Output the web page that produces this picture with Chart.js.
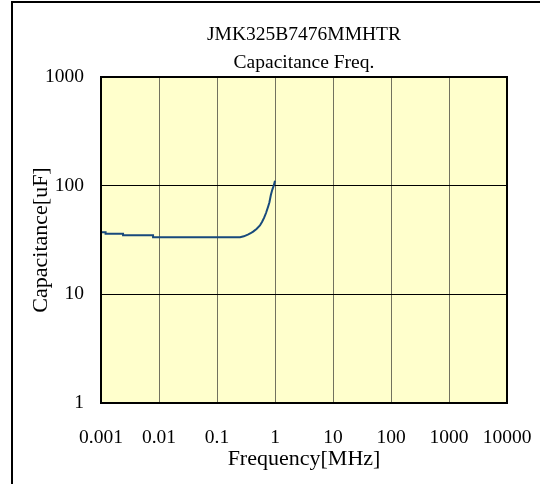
<!DOCTYPE html>
<html>
<head>
<meta charset="utf-8">
<script src="https://cdn.jsdelivr.net/npm/chart.js@4/dist/chart.umd.min.js"></script>
<style>
  html, body { margin: 0; padding: 0; background: #fff; }
  #wrap { width: 540px; height: 484px; }
</style>
</head>
<body>
<div id="wrap"><canvas id="capChart" width="540" height="484"></canvas></div>
<script>
// values
const freqMHz = [0.001, 0.0012, 0.0012, 0.0024, 0.0024, 0.0079, 0.0079, 0.25, 0.29, 0.34, 0.38, 0.42, 0.48, 0.55, 0.6, 0.65, 0.7, 0.76, 0.8, 0.85, 0.9, 0.95, 1.0];
const capUF = [37.3, 37.3, 36.1, 36.1, 35.0, 35.0, 33.6, 33.6, 34.2, 35.5, 36.5, 37.8, 40, 43, 46.5, 50.8, 56, 64, 70, 82.6, 92, 100, 111];

const xTicks = [0.001, 0.01, 0.1, 1, 10, 100, 1000, 10000];
const xTickLabels = ['0.001', '0.01', '0.1', '1', '10', '100', '1000', '10000'];
const yTicks = [1, 10, 100, 1000];
const yTickLabels = ['1', '10', '100', '1000'];

const titleLines = ['JMK325B7476MMHTR', 'Capacitance Freq.'];

const serif = "'Liberation Serif', 'Times New Roman', serif";

// yellow plot background, plot frame and the outer frame lines
const framePlugin = {
  id: 'frame',
  beforeDraw(chart) {
    const ctx = chart.ctx;
    const a = chart.chartArea;
    ctx.save();
    ctx.fillStyle = '#ffffcc';
    ctx.fillRect(a.left, a.top, a.right - a.left, a.bottom - a.top);
    ctx.strokeStyle = '#000';
    ctx.lineWidth = 2;
    ctx.beginPath();
    ctx.moveTo(12, 484);
    ctx.lineTo(12, 2);
    ctx.lineTo(540, 2);
    ctx.stroke();
    ctx.restore();
  },
  afterDraw(chart) {
    const ctx = chart.ctx;
    const a = chart.chartArea;
    ctx.save();
    ctx.strokeStyle = '#000';
    ctx.lineWidth = 2;
    ctx.strokeRect(a.left, a.top, a.right - a.left, a.bottom - a.top);
    ctx.restore();
  }
};

const points = freqMHz.map((f, i) => ({ x: f, y: capUF[i] }));

new Chart(document.getElementById('capChart').getContext('2d'), {
  type: 'line',
  data: {
    datasets: [{
      label: 'Capacitance',
      data: points,
      borderColor: '#184a7c',
      borderWidth: 2,
      pointRadius: 0,
      tension: 0,
      fill: false
    }]
  },
  options: {
    responsive: false,
    animation: false,
    layout: { padding: { top: 0, left: 0, right: 33, bottom: 0 } },
    plugins: {
      legend: { display: false },
      tooltip: { enabled: false },
      title: {
        display: true,
        fullSize: false,
        text: titleLines,
        color: '#000',
        font: { family: serif, size: 19.5, weight: 'normal', lineHeight: '28px' },
        padding: { top: 21, bottom: 0 }
      }
    },
    scales: {
      x: {
        type: 'logarithmic',
        min: 0.001,
        max: 10000,
        afterBuildTicks(scale) { scale.ticks = xTicks.map(v => ({ value: v })); },
        afterFit(scale) {
          scale.height = 81;
          scale.paddingLeft = 0;
          scale.paddingRight = 0;
        },
        ticks: {
          autoSkip: false,
          maxRotation: 0,
          padding: 23,
          color: '#000',
          font: { family: serif, size: 19.5 },
          callback: (v) => xTickLabels[xTicks.indexOf(v)] ?? ''
        },
        grid: { color: '#72725e', lineWidth: 1, drawTicks: false },
        border: { display: false },
        title: {
          display: true,
          text: 'Frequency[MHz]',
          color: '#000',
          font: { family: serif, size: 22 },
          padding: { top: 0, bottom: 12 }
        }
      },
      y: {
        type: 'logarithmic',
        min: 1,
        max: 1000,
        afterBuildTicks(scale) { scale.ticks = yTicks.map(v => ({ value: v })); },
        afterFit(scale) { scale.width = 101; },
        ticks: {
          padding: 17,
          color: '#000',
          font: { family: serif, size: 19.5 },
          callback: (v) => yTickLabels[yTicks.indexOf(v)] ?? ''
        },
        grid: { color: '#000', lineWidth: 1, drawTicks: false },
        border: { display: false },
        title: {
          display: true,
          text: 'Capacitance[uF]',
          color: '#000',
          font: { family: serif, size: 22 },
          padding: { top: 28, bottom: 0 }
        }
      }
    }
  },
  plugins: [framePlugin]
});
</script>
</body>
</html>
